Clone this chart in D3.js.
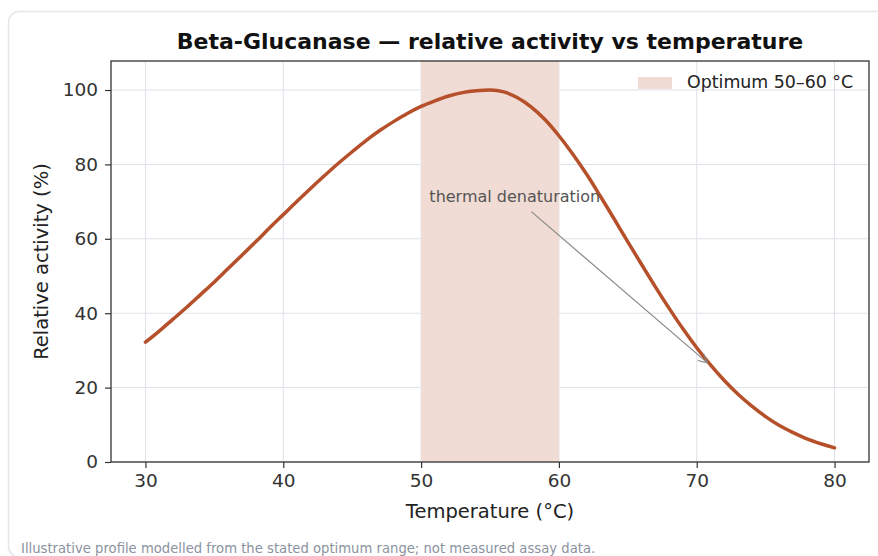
<!DOCTYPE html>
<html>
<head>
<meta charset="utf-8">
<script src="https://cdn.jsdelivr.net/npm/d3@7"></script>
<style>
  body { margin: 0; background: #fff; }
  svg { display: block; font-family: "DejaVu Sans", sans-serif; }
</style>
</head>
<body>
<div id="chart"></div>
<script>
// temperatures (°C) and relative activity (%)
var temperature = [30, 31, 32, 33, 34, 35, 36, 37, 38, 39,
                   40, 41, 42, 43, 44, 45, 46, 47, 48, 49,
                   50, 51, 52, 53, 54, 55, 56, 57, 58, 59,
                   60, 61, 62, 63, 64, 65, 66, 67, 68, 69,
                   70, 71, 72, 73, 74, 75, 76, 77, 78, 79, 80];
var activity = [32.2, 35.2, 38.4, 41.6, 45.0, 48.4, 52.0, 55.6, 59.2, 62.9,
                66.5, 70.1, 73.6, 77.0, 80.3, 83.4, 86.4, 89.1, 91.5, 93.7,
                95.6, 97.1, 98.4, 99.3, 99.8, 100.0, 99.5, 97.9, 95.4, 92.0,
                87.7, 82.8, 77.4, 71.5, 65.4, 59.2, 53.1, 47.1, 41.3, 35.8,
                30.7, 26.1, 21.9, 18.2, 15.0, 12.2, 9.8, 7.9, 6.2, 4.9, 3.8];

var xTicks = [30, 40, 50, 60, 70, 80];
var yTicks = [0, 20, 40, 60, 80, 100];
var optimumBand = [50, 60];
var annotText = [50.6, 70];     // where the label sits
var annotFrom = [58, 67.3];     // arrow start
var annotTo = 71;               // arrow points at the curve here

var W = 878, H = 556;
var margin = {top: 61, right: 9, bottom: 94, left: 111},
    width = W - margin.left - margin.right,
    height = H - margin.top - margin.bottom;

var curveColor = "#b5502a";
var bandColor = "#f0dcd4";
var gridColor = "#dde2e8";
var axisColor = "#333333";

var root = d3.select("#chart").append("svg")
    .attr("width", W)
    .attr("height", H);

// card
root.append("rect")
    .attr("x", 8.5).attr("y", 11.5)
    .attr("width", 920).attr("height", 546)
    .attr("rx", 11).attr("ry", 11)
    .attr("fill", "#fff")
    .attr("stroke", "#e3e6ea")
    .attr("stroke-width", 1.5);

var defs = root.append("defs");
defs.append("clipPath").attr("id", "plotclip")
  .append("rect").attr("width", width).attr("height", height);
defs.append("marker")
    .attr("id", "arrowhead")
    .attr("viewBox", "-10 -6 12 12")
    .attr("refX", 0).attr("refY", 0)
    .attr("markerWidth", 12).attr("markerHeight", 12)
    .attr("markerUnits", "userSpaceOnUse")
    .attr("orient", "auto")
  .append("path")
    .attr("d", "M-9,-4.5 L0,0 L-9,4.5")
    .attr("fill", "none")
    .attr("stroke", "#888")
    .attr("stroke-width", 1.2);

var svg = root.append("g")
    .attr("transform", "translate(" + margin.left + "," + margin.top + ")");

var x = d3.scaleLinear().domain([27.5, 82.5]).range([0, width]);
var y = d3.scaleLinear().domain([0, 107.8]).range([height, 0]);

// grid
svg.append("g").selectAll("line").data(xTicks).enter().append("line")
    .attr("x1", function(d) { return x(d); }).attr("x2", function(d) { return x(d); })
    .attr("y1", 0).attr("y2", height)
    .attr("stroke", gridColor).attr("stroke-width", 1);
svg.append("g").selectAll("line").data(yTicks).enter().append("line")
    .attr("x1", 0).attr("x2", width)
    .attr("y1", function(d) { return y(d); }).attr("y2", function(d) { return y(d); })
    .attr("stroke", gridColor).attr("stroke-width", 1);

// optimum band
svg.append("rect")
    .attr("x", x(optimumBand[0]))
    .attr("y", 0)
    .attr("width", x(optimumBand[1]) - x(optimumBand[0]))
    .attr("height", height)
    .attr("fill", bandColor);

// curve
var line = d3.line()
    .x(function(d, i) { return x(temperature[i]); })
    .y(function(d) { return y(d); })
    .curve(d3.curveMonotoneX);

svg.append("path")
    .datum(activity)
    .attr("clip-path", "url(#plotclip)")
    .attr("fill", "none")
    .attr("stroke", curveColor)
    .attr("stroke-width", 3.5)
    .attr("stroke-linecap", "round")
    .attr("d", line);

// annotation
var targetVal = activity[temperature.indexOf(annotTo)];
svg.append("line")
    .attr("x1", x(annotFrom[0])).attr("y1", y(annotFrom[1]))
    .attr("x2", x(annotTo) - 3).attr("y2", y(targetVal) - 2)
    .attr("stroke", "#888").attr("stroke-width", 1.2)
    .attr("marker-end", "url(#arrowhead)");
svg.append("text")
    .attr("x", x(annotText[0])).attr("y", y(annotText[1]))
    .attr("fill", "#555")
    .style("font-size", "16px")
    .text("thermal denaturation");

// axes
var xAxis = svg.append("g")
    .attr("transform", "translate(0," + height + ")")
    .call(d3.axisBottom(x).tickValues(xTicks).tickSize(6).tickPadding(6).tickSizeOuter(0));
var yAxis = svg.append("g")
    .call(d3.axisLeft(y).tickValues(yTicks).tickSize(6).tickPadding(7).tickSizeOuter(0));
[xAxis, yAxis].forEach(function(a) {
  a.select(".domain").remove();
  a.selectAll("line").attr("stroke", axisColor).attr("stroke-width", 1.2);
  a.selectAll("text").attr("fill", "#333").style("font-size", "18.5px")
    .style("font-family", "DejaVu Sans");
});

// frame
svg.append("rect")
    .attr("width", width).attr("height", height)
    .attr("fill", "none")
    .attr("stroke", axisColor)
    .attr("stroke-width", 1.3);

// title
svg.append("text")
    .attr("x", width / 2).attr("y", -12)
    .attr("text-anchor", "middle")
    .attr("fill", "#111")
    .style("font-size", "22px")
    .style("font-weight", "bold")
    .text("Beta-Glucanase \u2014 relative activity vs temperature");

// axis labels
svg.append("text")
    .attr("x", width / 2).attr("y", height + 56)
    .attr("text-anchor", "middle")
    .attr("fill", "#222")
    .style("font-size", "19.5px")
    .text("Temperature (\u00b0C)");
svg.append("text")
    .attr("transform", "rotate(-90)")
    .attr("x", -height / 2).attr("y", -63)
    .attr("text-anchor", "middle")
    .attr("fill", "#222")
    .style("font-size", "19.5px")
    .text("Relative activity (%)");

// legend
var leg = svg.append("g").attr("transform", "translate(" + (width - 231) + ",16)");
leg.append("rect").attr("x", 0).attr("y", 0).attr("width", 34).attr("height", 12)
    .attr("fill", bandColor);
leg.append("text").attr("x", 49).attr("y", 11)
    .attr("fill", "#222")
    .style("font-size", "17.4px")
    .text("Optimum 50\u201360 \u00b0C");

// footnote
root.append("text")
    .attr("x", 21).attr("y", 553)
    .attr("fill", "#8a939e")
    .style("font-size", "13.2px")
    .text("Illustrative profile modelled from the stated optimum range; not measured assay data.");
</script>
</body>
</html>
